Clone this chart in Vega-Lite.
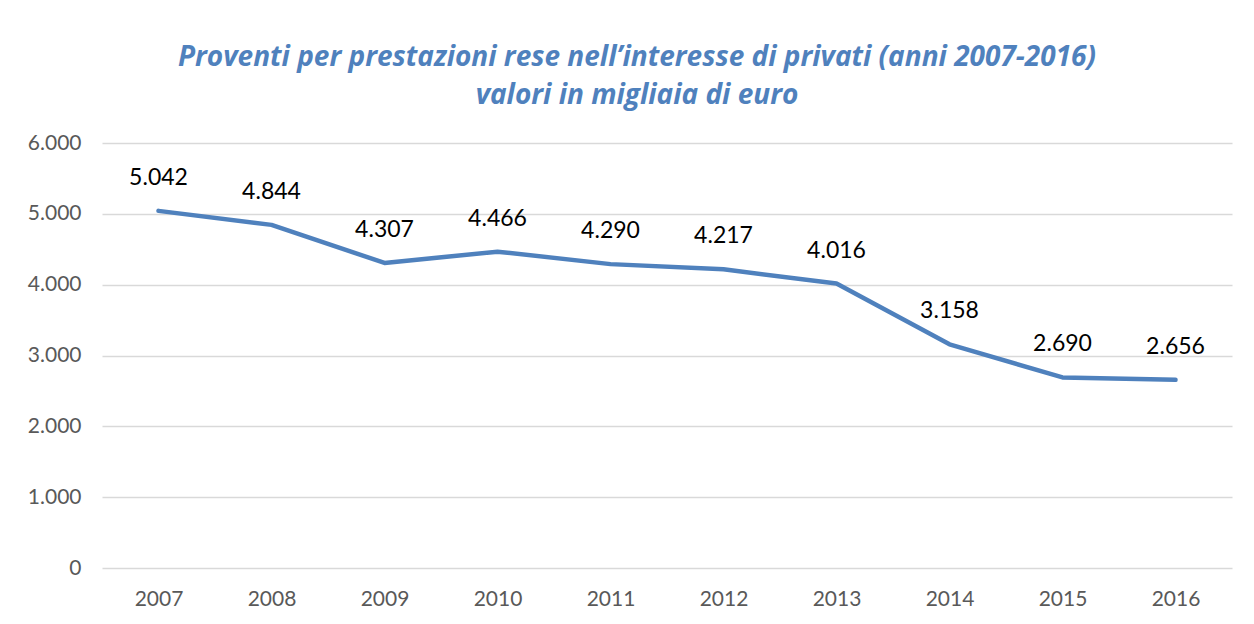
{
  "$schema": "https://vega.github.io/schema/vega-lite/v6.json",
  "width": 1130,
  "height": 425,
  "autosize": "none",
  "padding": {"left": 102, "top": 143, "right": 22, "bottom": 56},
  "background": "white",
  "config": {
    "view": {"stroke": null},
    "font": "Lato",
    "locale": {"number": {"decimal": ",", "thousands": ".", "grouping": [3], "currency": ["€", ""]}}
  },
  "title": {
    "text": ["Proventi per prestazioni rese nell’interesse di privati (anni 2007-2016)", "valori in migliaia di euro"],
    "anchor": "middle",
    "frame": "group",
    "dx": -30,
    "font": "Open Sans",
    "fontSize": 28,
    "fontWeight": "bold",
    "fontStyle": "italic",
    "color": "#4f81bd",
    "lineHeight": 38,
    "offset": 22
  },
  "data": {
    "values": [
      {"anno": "2007", "valore": 5042},
      {"anno": "2008", "valore": 4844},
      {"anno": "2009", "valore": 4307},
      {"anno": "2010", "valore": 4466},
      {"anno": "2011", "valore": 4290},
      {"anno": "2012", "valore": 4217},
      {"anno": "2013", "valore": 4016},
      {"anno": "2014", "valore": 3158},
      {"anno": "2015", "valore": 2690},
      {"anno": "2016", "valore": 2656}
    ]
  },
  "encoding": {
    "x": {
      "field": "anno", "type": "ordinal",
      "scale": {"type": "point", "padding": 0.5},
      "axis": {"title": null, "labelAngle": 0, "domain": false, "ticks": false, "labelFontSize": 21, "labelColor": "#595959", "labelPadding": 20, "labelFont": "Lato"}
    },
    "y": {
      "field": "valore", "type": "quantitative",
      "scale": {"domain": [0, 6000], "nice": false},
      "axis": {"title": null, "values": [0, 1000, 2000, 3000, 4000, 5000, 6000], "format": ",.0f", "domain": false, "ticks": false, "gridColor": "#d9d9d9", "gridWidth": 1.5, "labelFontSize": 21, "labelColor": "#595959", "labelPadding": 21, "labelFont": "Lato"}
    }
  },
  "layer": [
    {"mark": {"type": "line", "color": "#4f81bd", "strokeWidth": 4.5, "strokeCap": "round", "strokeJoin": "round"}},
    {
      "mark": {"type": "text", "dy": -33, "fontSize": 23, "color": "#000000", "font": "Lato"},
      "encoding": {"text": {"field": "valore", "type": "quantitative", "format": ",.0f"}}
    }
  ]
}
